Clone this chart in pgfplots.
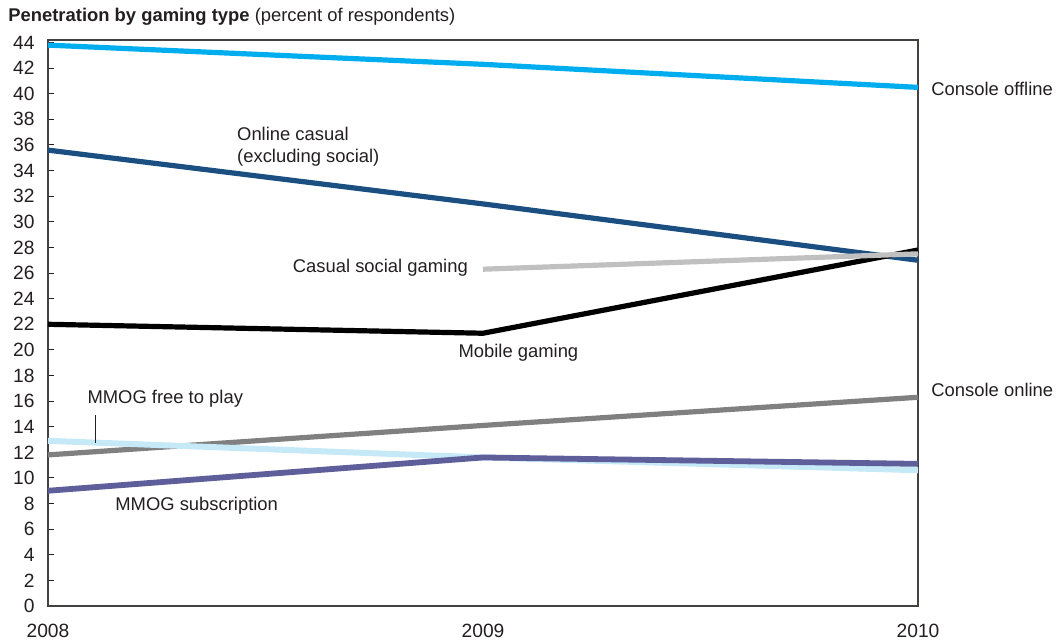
\documentclass[border=0pt]{standalone}
\usepackage{fontspec}
\setmainfont{Liberation Sans}
\usepackage{pgfplots}
\pgfplotsset{compat=1.18}
\definecolor{txt}{HTML}{231F20}
\definecolor{coff}{HTML}{00AEEF}
\definecolor{ocas}{HTML}{1B4F82}
\definecolor{csoc}{HTML}{C0C0C0}
\definecolor{conl}{HTML}{808080}
\definecolor{mfree}{HTML}{C6E9F8}
\definecolor{msub}{HTML}{5E5E9A}
\begin{document}
\begin{tikzpicture}
\fontsize{9.2pt}{11pt}\selectfont
\path[use as bounding box] (-24pt,-18.5pt) rectangle (505pt,303pt);
\begin{axis}[
  scale only axis, width=435pt, height=283pt,
  xmin=2008, xmax=2010, ymin=0, ymax=44.2,
  xtick={2008,2009,2010},
  ytick={0,2,...,44},
  ytick pos=left, tick align=inside,
  major tick length=3pt,
  xtick style={draw=none},
  /pgf/number format/1000 sep={},
  /pgf/number format/assume math mode=true,
  ticklabel style={font=\fontsize{9.6pt}{11pt}\selectfont, text=txt},
  yticklabel style={xshift=-3.5pt},
  xticklabel style={yshift=-6pt},
  axis line style={draw=txt!85, line width=0.6pt},
  tick style={draw=txt, line width=0.5pt},
  clip=false,
  every axis plot/.append style={line width=2.6pt},
]
\addplot[conl] coordinates {(2008,11.8) (2009,14.1) (2010,16.3)};
\addplot[mfree, line width=3pt] coordinates {(2008,12.9) (2009,11.6) (2010,10.6)};
\addplot[msub, line width=2.9pt] coordinates {(2008,9.0) (2009,11.6) (2010,11.1)};
\addplot[ocas] coordinates {(2008,35.6) (2009,31.4) (2010,27.0)};
\addplot[black] coordinates {(2008,22.0) (2009,21.3) (2010,27.8)};
\addplot[csoc] coordinates {(2009,26.3) (2010,27.5)};
\addplot[coff] coordinates {(2008,43.8) (2009,42.3) (2010,40.5)};
\draw[txt, line width=0.6pt] (axis cs:2008.110,14.9) -- (axis cs:2008.110,12.7);
\begin{scope}[every node/.style={inner sep=0pt, text=txt}]
\node[anchor=west, align=left] at (axis cs:2008.434,35.9) {Online casual\\(excluding social)};
\node[anchor=east] at (axis cs:2008.966,26.4) {Casual social gaming};
\node[anchor=west] at (axis cs:2008.943,19.8) {Mobile gaming};
\node[anchor=west] at (axis cs:2008.090,16.2) {MMOG free to play};
\node[anchor=west] at (axis cs:2008.154,7.8) {MMOG subscription};
\node[anchor=west] at (axis cs:2010.030,40.4) {Console offline};
\node[anchor=west] at (axis cs:2010.030,16.9) {Console online};
\node[anchor=west] at (axis cs:2007.908,46.0) {\textbf{Penetration by gaming type} (percent of respondents)};
\end{scope}
\end{axis}
\end{tikzpicture}
\end{document}
